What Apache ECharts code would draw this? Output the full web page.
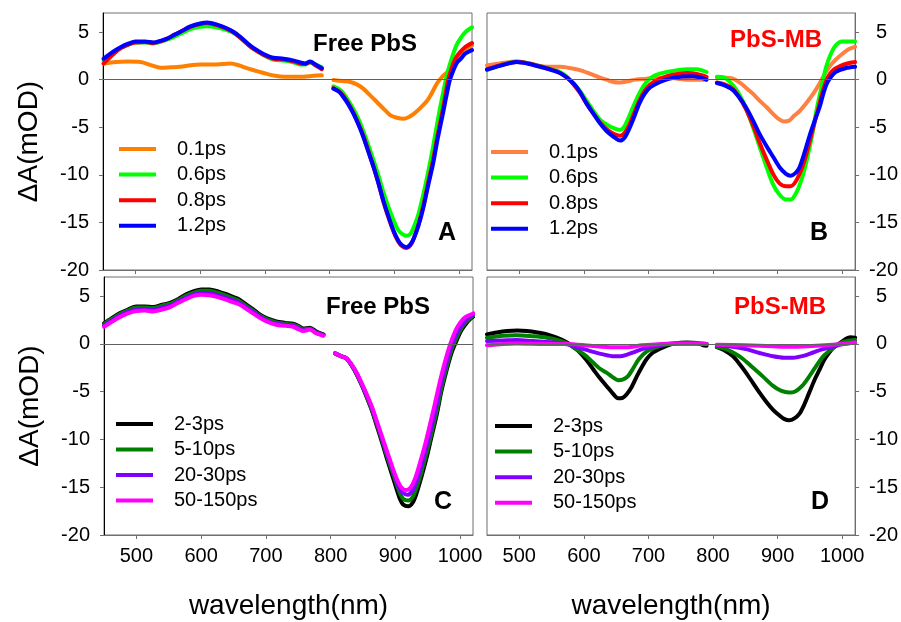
<!DOCTYPE html>
<html>
<head>
<meta charset="utf-8">
<script src="https://cdn.jsdelivr.net/npm/echarts@6/dist/echarts.min.js"></script>
<style>html,body{margin:0;padding:0;background:#fff}#c{width:901px;height:622px}</style>
</head>
<body>
<div id="c"></div>
<script>
// ---- tick labels ----
const xTicks = [500, 600, 700, 800, 900, 1000];
const yTicks = [-20, -15, -10, -5, 0, 5];
const G = '-'; // gap marker (no data 790-805 nm)

// ---- Panel A: Free PbS, early delays ----
const A_names = ['0.1ps', '0.6ps', '0.8ps', '1.2ps'];
const A_01 = [[451,1.7],[470,1.85],[487,1.9],[508,1.85],[525,1.5],[539,1.25],[555,1.3],[569,1.35],[585,1.5],[600,1.6],[625,1.6],[647,1.7],[660,1.5],[672,1.2],[688,0.9],[703,0.6],[716,0.4],[729,0.3],[755,0.3],[775,0.4],[788,0.45],[797,G],[806,-0.05],[820,-0.15],[832,-0.25],[842,-0.5],[852,-0.95],[862,-1.6],[873,-2.35],[884,-3.1],[894,-3.75],[904,-4.0],[914,-4.1],[922,-3.95],[930,-3.6],[940,-3.0],[951,-2.2],[958,-1.4],[966,-0.4],[974,0.3],[982,0.8],[990,1.5],[996,2.0],[1008,2.9],[1020,3.6]];
const A_06 = [[451,2.0],[465,2.8],[477,3.3],[490,3.7],[500,3.9],[515,3.9],[528,3.8],[540,4.0],[549,4.2],[560,4.5],[569,4.8],[585,5.3],[600,5.55],[611,5.6],[625,5.5],[641,5.2],[652,4.9],[662,4.4],[672,3.8],[683,3.2],[698,2.6],[713,2.1],[729,2.0],[745,1.8],[755,1.6],[762,1.6],[770,1.8],[778,1.6],[788,1.3],[797,G],[806,-0.7],[815,-1.0],[821,-1.4],[829,-2.2],[837,-3.1],[845,-4.2],[852,-5.4],[860,-6.9],[868,-8.5],[876,-10.2],[883,-11.8],[891,-13.4],[899,-14.8],[906,-15.8],[912,-16.2],[919,-16.4],[925,-16.2],[930,-15.5],[937,-14.2],[945,-12.0],[952,-9.8],[960,-7.0],[967,-4.3],[975,-1.5],[982,0.7],[990,2.5],[996,3.6],[1003,4.4],[1010,5.0],[1020,5.5]];
const A_08 = [[451,1.7],[465,2.6],[477,3.3],[490,3.7],[500,3.9],[515,3.95],[528,3.85],[540,4.05],[549,4.3],[560,4.7],[569,5.0],[585,5.55],[600,5.85],[611,5.95],[625,5.75],[641,5.35],[652,4.95],[662,4.4],[672,3.8],[683,3.2],[698,2.6],[713,2.2],[729,2.1],[745,1.9],[755,1.7],[762,1.65],[770,1.85],[778,1.5],[788,1.1],[797,G],[806,-0.9],[815,-1.25],[821,-1.7],[829,-2.5],[837,-3.5],[845,-4.7],[852,-5.9],[860,-7.5],[868,-9.2],[876,-11.0],[883,-12.8],[891,-14.5],[899,-16.0],[906,-17.0],[912,-17.5],[919,-17.7],[925,-17.4],[930,-16.7],[937,-15.3],[945,-13.2],[952,-10.9],[960,-8.4],[967,-5.8],[975,-3.1],[983,-0.1],[990,1.5],[996,2.4],[1003,3.0],[1009,3.4],[1020,3.85]];
const A_12 = [[451,2.2],[465,2.9],[477,3.4],[490,3.8],[500,4.0],[515,4.0],[528,3.9],[540,4.1],[549,4.3],[560,4.7],[569,5.0],[585,5.6],[600,5.9],[611,6.0],[625,5.8],[641,5.4],[652,5.0],[662,4.5],[672,3.9],[683,3.3],[698,2.7],[713,2.3],[729,2.2],[745,2.0],[755,1.8],[762,1.7],[770,1.9],[778,1.6],[788,1.2],[797,G],[806,-0.95],[815,-1.3],[821,-1.8],[829,-2.6],[837,-3.6],[845,-4.8],[852,-6.0],[860,-7.6],[868,-9.2],[876,-11.0],[883,-12.7],[891,-14.4],[899,-15.9],[906,-16.9],[912,-17.4],[919,-17.6],[925,-17.3],[930,-16.7],[937,-15.4],[945,-13.4],[952,-11.2],[960,-8.8],[967,-6.2],[975,-3.6],[982,-1.2],[986,0],[996,1.7],[1003,2.2],[1009,2.7],[1020,3.1]];

// ---- Panel B: PbS-MB, early delays ----
const B_names = ['0.1ps', '0.6ps', '0.8ps', '1.2ps'];
const B_01 = [[450,1.5],[470,1.7],[496,1.9],[515,1.7],[532,1.4],[550,1.35],[563,1.35],[580,1.2],[594,1.0],[610,0.6],[625,0.2],[635,0],[646,-0.25],[656,-0.3],[666,-0.2],[680,0],[697,0.1],[712,0.2],[728,0.2],[745,0.1],[759,0],[775,0],[790,0],[798,G],[806,0.2],[820,0.2],[831,0.1],[841,-0.3],[851,-0.85],[862,-1.5],[872,-2.2],[883,-2.9],[893,-3.6],[901,-4.1],[910,-4.4],[918,-4.3],[924,-3.9],[934,-3.3],[944,-2.5],[955,-1.5],[965,-0.4],[973,0.6],[980,1.35],[990,2.1],[1001,2.75],[1010,3.2],[1020,3.45]];
const B_06 = [[450,1.0],[470,1.5],[496,1.9],[515,1.7],[532,1.45],[550,1.1],[563,0.8],[574,0.3],[584,-0.4],[594,-1.2],[604,-2.2],[615,-3.3],[625,-4.2],[635,-4.7],[646,-5.1],[656,-5.3],[662,-5.0],[668,-4.2],[676,-2.9],[684,-1.7],[692,-0.7],[700,0],[712,0.5],[728,0.8],[745,1.0],[760,1.1],[775,1.1],[790,0.8],[798,G],[806,0.3],[818,0.2],[831,-0.6],[841,-1.6],[851,-3.0],[862,-5.0],[872,-7.0],[883,-9.2],[893,-11.0],[903,-12.1],[913,-12.6],[920,-12.6],[928,-12.0],[937,-10.5],[945,-8.5],[953,-6.0],[960,-3.3],[968,-0.8],[975,1.3],[983,2.8],[990,3.6],[1000,4.0],[1010,4.0],[1020,4.0]];
const B_08 = [[450,1.1],[470,1.5],[496,1.85],[515,1.7],[532,1.4],[550,1.05],[563,0.7],[574,0.2],[584,-0.5],[594,-1.4],[604,-2.5],[615,-3.6],[625,-4.5],[635,-5.2],[646,-5.7],[656,-5.9],[663,-5.6],[670,-4.8],[678,-3.5],[686,-2.2],[694,-1.2],[703,-0.5],[715,0],[730,0.4],[745,0.6],[760,0.7],[775,0.6],[790,0.3],[798,G],[806,-0.3],[818,-0.5],[831,-1.0],[841,-1.9],[851,-3.1],[862,-4.8],[872,-6.6],[883,-8.4],[893,-9.9],[903,-10.9],[913,-11.2],[920,-11.2],[928,-10.7],[937,-9.4],[945,-7.7],[953,-5.6],[962,-3.3],[970,-1.2],[978,0.3],[986,1.0],[996,1.4],[1008,1.7],[1020,1.85]];
const B_12 = [[450,1.05],[470,1.45],[496,1.85],[515,1.65],[532,1.35],[550,1.0],[563,0.7],[574,0.2],[584,-0.4],[594,-1.3],[604,-2.5],[615,-3.6],[625,-4.6],[635,-5.4],[646,-6.0],[656,-6.4],[663,-6.1],[670,-5.2],[678,-3.9],[686,-2.5],[694,-1.5],[703,-0.8],[718,-0.25],[733,0.1],[749,0.3],[769,0.35],[790,0],[798,G],[806,-0.35],[818,-0.6],[831,-1.1],[841,-1.9],[851,-2.9],[862,-4.3],[872,-5.7],[883,-7.0],[893,-8.1],[903,-9.2],[913,-9.9],[920,-10.1],[928,-9.8],[934,-9.2],[942,-7.6],[949,-6.0],[957,-4.4],[965,-2.9],[972,-1.2],[978,-0.2],[990,0.8],[1005,1.2],[1020,1.35]];

// ---- Panel C: Free PbS, later delays ----
const C_names = ['2-3ps', '5-10ps', '20-30ps', '50-150ps'];
const C_2_3 = [[450,2.15],[462,2.7],[474,3.2],[487,3.6],[500,3.9],[513,3.9],[526,3.85],[540,4.1],[552,4.3],[565,4.7],[577,5.2],[590,5.55],[600,5.7],[613,5.7],[626,5.5],[639,5.2],[650,4.9],[660,4.6],[670,4.1],[680,3.65],[690,3.1],[701,2.7],[716,2.35],[730,2.2],[742,2.1],[750,1.9],[758,1.6],[768,1.7],[778,1.3],[789,1.0],[798,G],[807,-1.0],[817,-1.3],[825,-1.55],[833,-2.3],[840,-3.15],[848,-4.3],[856,-5.6],[864,-7.0],[871,-8.5],[879,-10.2],[887,-12.0],[895,-13.7],[902,-15.2],[907,-16.2],[912,-16.8],[920,-17.0],[927,-16.6],[933,-15.6],[940,-14.0],[948,-12.0],[956,-9.7],[964,-7.4],[971,-5.0],[979,-2.8],[987,-0.9],[995,0.4],[1001,1.3],[1008,2.0],[1014,2.5],[1021,2.9]];
const C_5_10 = [[450,2.05],[462,2.6],[474,3.1],[487,3.5],[500,3.8],[513,3.8],[526,3.75],[540,4.0],[552,4.2],[565,4.6],[577,5.05],[590,5.4],[600,5.55],[613,5.55],[626,5.35],[639,5.05],[650,4.75],[660,4.45],[670,3.95],[680,3.5],[690,3.0],[701,2.6],[716,2.25],[730,2.1],[742,2.0],[750,1.8],[758,1.5],[768,1.6],[778,1.2],[789,0.95],[798,G],[807,-1.0],[817,-1.3],[825,-1.55],[833,-2.3],[840,-3.1],[848,-4.25],[856,-5.5],[864,-6.9],[871,-8.3],[879,-9.95],[887,-11.7],[895,-13.3],[902,-14.7],[907,-15.6],[912,-16.2],[920,-16.4],[927,-16.0],[933,-15.0],[940,-13.5],[948,-11.5],[956,-9.3],[964,-7.0],[971,-4.7],[979,-2.5],[987,-0.6],[995,0.7],[1001,1.5],[1008,2.2],[1014,2.6],[1021,3.0]];
const C_20_30 = [[450,1.9],[462,2.45],[474,2.95],[487,3.35],[500,3.6],[513,3.65],[526,3.55],[540,3.8],[552,4.0],[565,4.45],[577,4.85],[590,5.2],[600,5.35],[613,5.3],[626,5.1],[639,4.8],[650,4.55],[660,4.25],[670,3.8],[680,3.35],[690,2.9],[701,2.45],[716,2.1],[730,2.0],[742,1.9],[750,1.65],[758,1.4],[768,1.55],[778,1.15],[789,0.9],[798,G],[807,-1.0],[817,-1.3],[825,-1.55],[833,-2.25],[840,-3.05],[848,-4.2],[856,-5.4],[864,-6.75],[871,-8.15],[879,-9.8],[887,-11.45],[895,-13.0],[902,-14.4],[907,-15.2],[912,-15.6],[919,-15.8],[926,-15.4],[932,-14.5],[939,-13.0],[947,-11.0],[955,-8.9],[963,-6.6],[970,-4.3],[978,-2.2],[986,-0.3],[994,1.0],[1001,1.8],[1008,2.4],[1014,2.8],[1021,3.1]];
const C_50_150 = [[450,1.8],[462,2.3],[474,2.8],[487,3.2],[500,3.45],[513,3.5],[526,3.4],[540,3.6],[552,3.85],[565,4.3],[577,4.7],[590,5.05],[600,5.15],[613,5.1],[626,4.9],[639,4.6],[650,4.35],[660,4.1],[670,3.65],[680,3.2],[690,2.75],[701,2.35],[716,2.0],[730,1.9],[742,1.8],[750,1.55],[758,1.35],[768,1.5],[778,1.1],[789,0.85],[798,G],[807,-1.0],[817,-1.3],[825,-1.55],[833,-2.2],[840,-3.0],[848,-4.1],[856,-5.3],[864,-6.6],[871,-8.0],[879,-9.6],[887,-11.2],[895,-12.8],[902,-14.1],[907,-14.8],[912,-15.2],[918,-15.3],[924,-15.0],[930,-14.2],[937,-12.7],[945,-10.8],[953,-8.6],[961,-6.3],[969,-3.9],[977,-1.8],[985,0.0],[993,1.4],[1000,2.2],[1008,2.8],[1021,3.2]];

// ---- Panel D: PbS-MB, later delays ----
const D_names = ['2-3ps', '5-10ps', '20-30ps', '50-150ps'];
const D_2_3 = [[450,1.0],[465,1.2],[481,1.35],[497,1.4],[512,1.35],[528,1.2],[543,1.0],[558,0.65],[574,0.15],[584,-0.35],[594,-0.9],[604,-1.7],[615,-2.7],[625,-3.6],[635,-4.4],[645,-5.2],[653,-5.7],[660,-5.65],[666,-5.3],[674,-4.5],[682,-3.4],[690,-2.4],[697,-1.6],[707,-0.9],[718,-0.5],[728,-0.2],[738,0],[759,0.15],[775,0.1],[785,-0.15],[790,-0.2],[798,G],[806,-0.35],[818,-0.7],[831,-1.3],[841,-2.1],[851,-3.0],[862,-4.1],[872,-5.1],[883,-6.1],[893,-6.9],[903,-7.5],[910,-7.85],[918,-8.0],[926,-7.8],[934,-7.3],[941,-6.4],[949,-5.1],[957,-3.8],[965,-2.7],[972,-1.7],[980,-0.9],[988,-0.3],[996,0.05],[1006,0.55],[1013,0.7],[1020,0.65]];
const D_5_10 = [[450,0.65],[475,0.85],[496,0.9],[520,0.8],[543,0.65],[560,0.4],[574,0.05],[584,-0.35],[594,-0.8],[604,-1.3],[615,-2.0],[625,-2.6],[635,-3.0],[645,-3.5],[653,-3.8],[660,-3.75],[668,-3.4],[676,-2.6],[685,-1.6],[697,-0.8],[710,-0.4],[725,-0.1],[740,0.05],[759,0.05],[775,0.05],[790,0],[798,G],[806,-0.3],[818,-0.5],[831,-0.9],[845,-1.5],[862,-2.5],[877,-3.4],[893,-4.4],[905,-4.9],[918,-5.1],[928,-4.95],[938,-4.4],[947,-3.6],[957,-2.6],[965,-1.8],[972,-1.2],[980,-0.75],[990,-0.2],[996,0.05],[1008,0.3],[1020,0.4]];
const D_20_30 = [[450,0.3],[475,0.35],[496,0.4],[520,0.3],[543,0.2],[560,0.1],[574,-0.05],[590,-0.35],[610,-0.75],[630,-1.1],[646,-1.3],[656,-1.3],[668,-1.1],[680,-0.8],[695,-0.45],[712,-0.2],[728,0],[745,0.05],[775,0.05],[790,0],[798,G],[806,-0.15],[830,-0.3],[851,-0.55],[872,-0.95],[893,-1.3],[910,-1.45],[924,-1.45],[940,-1.25],[955,-0.9],[970,-0.55],[985,-0.3],[1000,-0.05],[1020,0.15]];
const D_50_150 = [[450,-0.15],[475,0],[496,0.05],[540,0],[574,0],[610,-0.2],[646,-0.35],[666,-0.35],[690,-0.15],[720,0],[745,0.05],[775,0.05],[790,0],[798,G],[806,-0.1],[850,-0.15],[893,-0.25],[924,-0.3],[960,-0.2],[1000,0],[1020,0.15]];

// ---- styling ----
const FONT = '"Liberation Sans", Arial, sans-serif';
const GRAYAX = '#6e6e6e';
const panels = [
  { key: 'A', names: A_names, data: [A_01, A_06, A_08, A_12], colors: ['#FF8000', '#00FF00', '#FF0000', '#0000FF'],
    grid: { left: 103, top: 13, width: 369, height: 257 }, yPos: 'left', xLabels: false, legend: { left: 119, top: 138, gap: 3.6 } },
  { key: 'B', names: B_names, data: [B_01, B_06, B_08, B_12], colors: ['#FF8040', '#00FF00', '#FF0000', '#0000FF'],
    grid: { left: 487, top: 13, width: 369, height: 257 }, yPos: 'right', xLabels: false, legend: { left: 491, top: 141, gap: 3.6 } },
  { key: 'C', names: C_names, data: [C_2_3, C_5_10, C_20_30, C_50_150], colors: ['#000000', '#008000', '#8000FF', '#FF00FF'],
    grid: { left: 104, top: 277, width: 369, height: 258 }, yPos: 'left', xLabels: true, legend: { left: 116, top: 413, gap: 3.5 } },
  { key: 'D', names: D_names, data: [D_2_3, D_5_10, D_20_30, D_50_150], colors: ['#000000', '#008000', '#8000FF', '#FF00FF'],
    grid: { left: 487, top: 277, width: 370, height: 258 }, yPos: 'right', xLabels: true, legend: { left: 495, top: 415, gap: 3.6 } }
];

const grids = [], xAxes = [], yAxes = [], series = [], legends = [];
panels.forEach((p, i) => {
  grids.push(Object.assign({ show: true, borderColor: GRAYAX, borderWidth: 1, backgroundColor: 'transparent' }, p.grid));
  xAxes.push({
    gridIndex: i, type: 'value', min: 450, max: 1020,
    axisLine: { show: true, onZero: false, lineStyle: { color: GRAYAX, width: 1 } },
    axisTick: { show: true, inside: false, length: 4, customValues: xTicks, lineStyle: { color: GRAYAX } },
    axisLabel: { show: p.xLabels, customValues: xTicks, margin: 11, fontSize: 20, color: '#000', fontFamily: FONT,
      formatter: (v) => String(v) },
    splitLine: { show: false },
    name: p.xLabels ? 'wavelength(nm)' : '', nameLocation: 'middle', nameGap: 57,
    nameTextStyle: { fontSize: 28, color: '#000', fontFamily: FONT }
  });
  const right = p.yPos === 'right';
  yAxes.push({
    gridIndex: i, type: 'value', min: -20, max: 7, position: p.yPos,
    axisLine: { show: true, onZero: false, lineStyle: { color: right ? GRAYAX : '#000', width: 1 } },
    axisTick: { show: true, inside: false, length: 4, customValues: yTicks, lineStyle: { color: GRAYAX } },
    axisLabel: { customValues: yTicks, margin: 14, fontSize: 20, color: '#000', fontFamily: FONT,
      formatter: right ? ((v) => (v < 0 ? String(v) : '{p|}' + v)) : ((v) => String(v)),
      rich: { p: { width: 7, fontSize: 20 } } },
    splitLine: { show: false },
    name: right ? '' : 'ΔA(mOD)', nameLocation: 'middle', nameGap: 60, nameRotate: 90,
    nameTextStyle: { fontSize: 28, color: '#000', fontFamily: FONT }
  });
  // zero line
  series.push({
    type: 'line', name: p.key + '|zero', xAxisIndex: i, yAxisIndex: i, data: [], silent: true,
    markLine: { silent: true, symbol: 'none', label: { show: false }, animation: false,
      lineStyle: { color: '#606060', width: 1, type: 'solid' }, data: [{ yAxis: 0 }] }
  });
  const legendData = [];
  p.names.forEach((n, k) => {
    const nm = p.key + '|' + n;
    legendData.push({ name: nm, itemStyle: { color: p.colors[k] } });
    series.push({
      type: 'line', name: nm, xAxisIndex: i, yAxisIndex: i, data: p.data[k],
      symbol: 'none', smooth: 0.3, connectNulls: false, animation: false,
      lineStyle: { color: p.colors[k], width: 4, cap: 'round', join: 'round' },
      itemStyle: { color: p.colors[k] }
    });
  });
  legends.push({
    orient: 'vertical', left: p.legend.left, top: p.legend.top, itemGap: p.legend.gap,
    itemWidth: 37, itemHeight: 4, icon: 'rect', selectedMode: false, padding: 0,
    data: legendData, formatter: (nm) => nm.split('|')[1],
    textStyle: { fontSize: 20, color: '#000', fontFamily: FONT, lineHeight: 22, padding: [0, 0, 0, 16] }
  });
});

const txt = (text, x, y, size, color) => ({
  type: 'text', x: x, y: y, silent: true,
  style: { text: text, fill: color, font: 'bold ' + size + 'px ' + FONT, textAlign: 'center', textVerticalAlign: 'middle' }
});

const chart = echarts.init(document.getElementById('c'), null, { renderer: 'canvas' });
chart.setOption({
  animation: false,
  backgroundColor: '#fff',
  grid: grids, xAxis: xAxes, yAxis: yAxes, series: series, legend: legends,
  graphic: [
    txt('Free PbS', 365, 44, 24, '#000'),
    txt('PbS-MB', 776, 40, 24, '#FF0000'),
    txt('Free PbS', 378, 307, 24, '#000'),
    txt('PbS-MB', 780, 307, 24, '#FF0000'),
    txt('A', 447, 233, 25, '#000'),
    txt('B', 819, 233, 25, '#000'),
    txt('C', 443, 502, 25, '#000'),
    txt('D', 820, 502, 25, '#000')
  ]
});
</script>
</body>
</html>
